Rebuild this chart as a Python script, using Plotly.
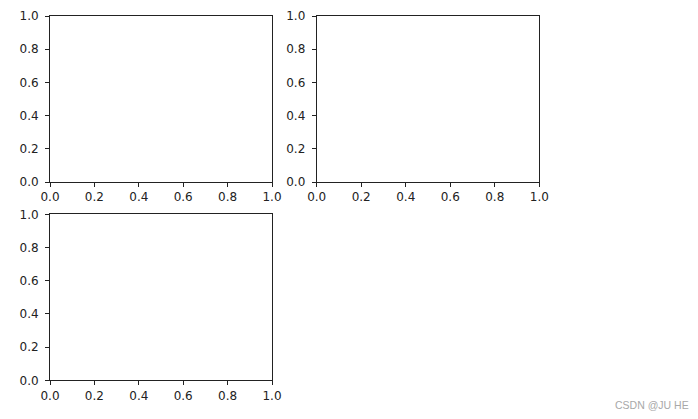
import plotly.graph_objects as go

# page body has an 8px default margin; figure is sized to fit the 698x419 window
OFF = 8
W, H = 698 - OFF, 419 - OFF
tick_vals = [0.0, 0.2, 0.4, 0.6, 0.8, 1.0]
tick_text = ["0.0", "0.2", "0.4", "0.6", "0.8", "1.0"]
watermark = "CSDN @JU HE"

# subplot boxes in window pixels: (left, right, top, bottom)
boxes = [(50, 272, 16, 182), (316.7, 539.3, 16, 182), (50, 272, 214.3, 380.3)]

fig = go.Figure()
layout = dict(width=W, height=H, autosize=False, margin=dict(l=0, r=0, t=0, b=0, pad=0),
              paper_bgcolor="white", plot_bgcolor="white", showlegend=False,
              font=dict(family="DejaVu Sans", size=12, color="#222222"))

axis_common = dict(range=[0, 1], tickvals=tick_vals, ticktext=tick_text, showgrid=False,
                   zeroline=False, showline=True, mirror=True, linecolor="#222222", linewidth=1,
                   ticks="outside", ticklen=4, tickwidth=1, tickcolor="#222222", automargin=False,
                   tickfont=dict(family="DejaVu Sans", size=12, color="#222222"), fixedrange=True)

for i, (l, r, t, b) in enumerate(boxes, start=1):
    xa = "xaxis" if i == 1 else f"xaxis{i}"
    ya = "yaxis" if i == 1 else f"yaxis{i}"
    xr = "x" if i == 1 else f"x{i}"
    yr = "y" if i == 1 else f"y{i}"
    layout[xa] = dict(domain=[(l - OFF) / W, (r - OFF) / W], anchor=yr, **axis_common)
    layout[ya] = dict(domain=[1 - (b - OFF) / H, 1 - (t - OFF) / H], anchor=xr,
                      ticklabelstandoff=4, **axis_common)
    fig.add_trace(go.Scatter(x=[], y=[], xaxis=xr, yaxis=yr))

layout["annotations"] = [dict(text=watermark, x=(691 - OFF) / W, y=1 - (405 - OFF) / H,
                              xref="paper", yref="paper",
                              xanchor="right", yanchor="middle", showarrow=False,
                              font=dict(family="Liberation Sans", size=10.5, color="#a8a8a8"))]
fig.update_layout(**layout)
fig.write_html("out.html")
